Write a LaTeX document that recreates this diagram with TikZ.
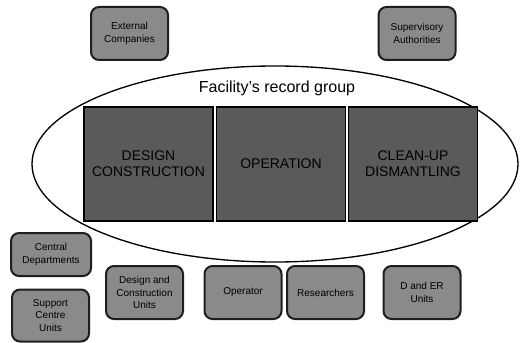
\documentclass[tikz,border=0pt]{standalone}
\usepackage{fontspec}
\setmainfont{Liberation Sans}
\definecolor{unitgray}{RGB}{138,138,138}
\definecolor{phasegray}{RGB}{90,90,90}
\tikzset{every picture/.style={line width=0.75pt}}
\tikzset{
  unitbox/.style={draw={rgb, 255:red, 30; green, 30; blue, 30 }, line width=1.5, rounded corners=6pt, fill=unitgray, align=center, inner sep=0.75pt, font=\fontsize{7.5}{9.5}\selectfont, minimum width=57.75pt, minimum height=39.75pt},
  phasebox/.style={draw, line width=1, fill=phasegray, align=center, inner sep=0.75pt, font=\fontsize{10.5}{11.8}\selectfont, minimum width=96.75pt, minimum height=85.5pt}
}

\begin{document}
\begin{tikzpicture}[x=0.75pt,y=0.75pt,yscale=-1,xscale=1]
%set diagram left start at 0, and has height of 342
\useasboundingbox (0,0) rectangle (530,342);

%Shape: Ellipse [id:record]
\draw [line width=1]  (275,164) ellipse (243 and 98) ;

% Text Node
\node (title) at (277,88) [inner sep=0.75pt, font=\fontsize{12}{14}\selectfont] {Facility's record group};

% Phase boxes
\node (design) at (148.5,164) [phasebox] {DESIGN\\CONSTRUCTION};
\node (operation) at (281,164) [phasebox] {OPERATION};
\node (cleanup) at (413,164) [phasebox] {CLEAN-UP\\DISMANTLING};

% Outside bodies
\node (external) at (129.5,33.5) [unitbox] {External\\Companies};
\node (supervisory) at (417,33.5) [unitbox] {Supervisory\\Authorities};

% Units
\node (central) at (51,254.5) [unitbox, minimum width=60pt, minimum height=32.25pt] {Central\\Departments};
\node (support) at (50.5,315.5) [unitbox, minimum height=39pt] {Support\\Centre\\Units};
\node (dcunits) at (144.5,292.5) [unitbox] {Design and\\Construction\\Units};
\node (operator) at (243,292.5) [unitbox] {Operator};
\node (researchers) at (325.5,292.5) [unitbox] {Researchers};
\node (deunits) at (422,292.5) [unitbox] {D and ER\\Units};

\end{tikzpicture}
\end{document}
